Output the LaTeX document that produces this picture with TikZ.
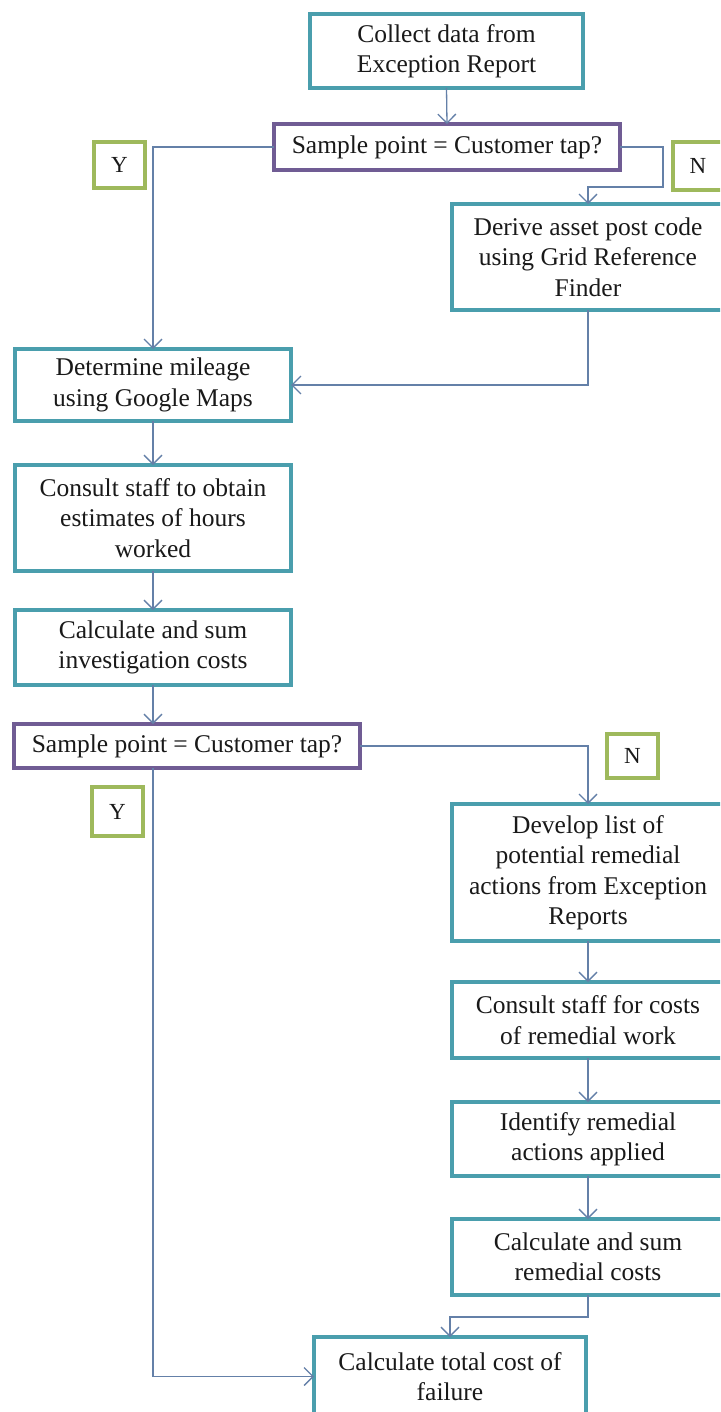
\documentclass[tikz,border=0pt]{standalone}
\usepackage{fontspec}
\setmainfont{Liberation Serif}
\usetikzlibrary{arrows.meta}
\definecolor{boxteal}{RGB}{74,158,173}
\definecolor{decpurple}{RGB}{112,92,148}
\definecolor{labgreen}{RGB}{158,185,92}
\definecolor{arrowblue}{RGB}{100,128,168}
\definecolor{txt}{RGB}{25,25,25}
\tikzset{
  stepbox/.style={draw=boxteal, line width=4.5pt, fill=white, align=center, inner sep=0pt, outer sep=0pt, text=txt, font=\fontsize{25.5}{30.5}\selectfont},
  decbox/.style={draw=decpurple, line width=4.5pt, fill=white, align=center, inner sep=0pt, outer sep=0pt, text=txt, font=\fontsize{25.5}{30.5}\selectfont},
  labbox/.style={draw=labgreen, line width=4pt, fill=white, align=center, inner sep=0pt, outer sep=0pt, text=txt, font=\fontsize{23}{28}\selectfont},
  flow/.style={draw=arrowblue, line width=1.3pt, -{Straight Barb[length=9pt,width=18pt,line width=1.3pt]}}
}
\begin{document}
\begin{tikzpicture}[x=1pt,y=-1pt]
\useasboundingbox (0,0) rectangle (720,1412);
\clip (0,0) rectangle (720,1412);
\fill[white] (0,0) rectangle (720,1412);

% nodes
\node[stepbox, minimum width=273pt, minimum height=74pt] (collect) at (446.5,51) {Collect data from\\Exception Report};
\node[decbox, minimum width=346pt, minimum height=46pt] (dec1) at (447,147) {Sample point = Customer tap?};
\node[labbox, minimum width=51pt, minimum height=46pt] (y1) at (119.5,165) {Y};
\node[labbox, minimum width=50pt, minimum height=48pt] (n1) at (698,166) {N};
\node[stepbox, minimum width=272pt, minimum height=106pt] (derive) at (588,257) {Derive asset post code\\using Grid Reference\\Finder};
\node[stepbox, minimum width=276pt, minimum height=72pt] (determine) at (153,385) {Determine mileage\\using Google Maps};
\node[stepbox, minimum width=276pt, minimum height=106pt] (consult) at (153,518) {Consult staff to obtain\\estimates of hours\\worked};
\node[stepbox, minimum width=276pt, minimum height=75pt] (calcinv) at (153,647.5) {Calculate and sum\\investigation costs};
\node[decbox, minimum width=346pt, minimum height=44pt] (dec2) at (187,746) {Sample point = Customer tap?};
\node[labbox, minimum width=51pt, minimum height=49pt] (y2) at (117.5,811.5) {Y};
\node[labbox, minimum width=51pt, minimum height=44pt] (n2) at (632.5,756) {N};
\node[stepbox, minimum width=272pt, minimum height=137pt] (develop) at (588,872.5) {Develop list of\\potential remedial\\actions from Exception\\Reports};
\node[stepbox, minimum width=272pt, minimum height=76pt] (consult2) at (588,1020) {Consult staff for costs\\of remedial work};
\node[stepbox, minimum width=272pt, minimum height=74pt] (identify) at (588,1139) {Identify remedial\\actions applied};
\node[stepbox, minimum width=272pt, minimum height=76pt] (calcrem) at (588,1257) {Calculate and sum\\remedial costs};
\node[stepbox, minimum width=272pt, minimum height=79pt] (total) at (450,1376.5) {Calculate total cost of\\failure};

% helper coordinates
\coordinate (n1turn) at (663,147);
\coordinate (n1low) at (663,187);
\coordinate (remjoin) at (588,1317);

% connectors
\draw[flow] (collect.south) -- (dec1.north);
\draw[flow] (dec1.west) -| (determine.north);
\draw[flow] (dec1.east) -- (n1turn) -- (n1low) -- (n1low -| derive.north) -- (derive.north);
\draw[flow] (derive.south) |- (determine.east);
\draw[flow] (determine.south) -- (consult.north);
\draw[flow] (consult.south) -- (calcinv.north);
\draw[flow] (calcinv.south) -- (calcinv.south |- dec2.north);
\draw[flow] (dec2.east) -| (develop.north);
\draw[flow] (calcinv.south |- dec2.south) |- (total.west);
\draw[flow] (develop.south) -- (consult2.north);
\draw[flow] (consult2.south) -- (identify.north);
\draw[flow] (identify.south) -- (calcrem.north);
\draw[flow] (calcrem.south) -- (remjoin) -- (remjoin -| total.north) -- (total.north);
\end{tikzpicture}
\end{document}
